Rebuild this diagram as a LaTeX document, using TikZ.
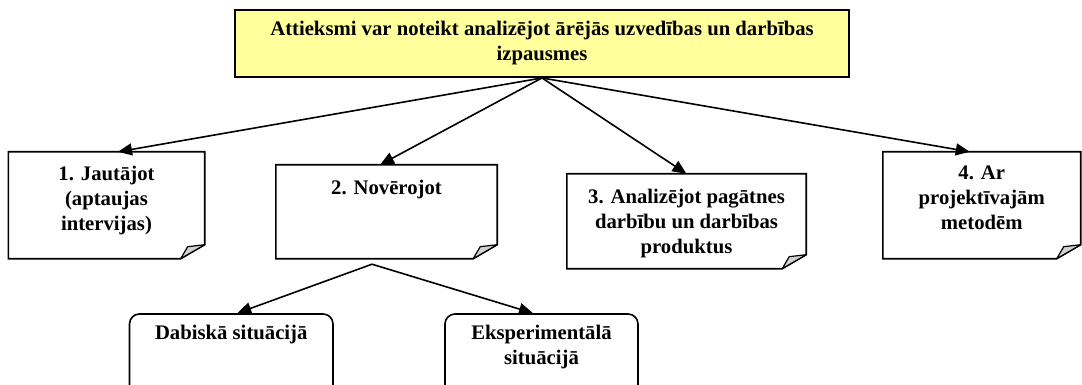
\documentclass[tikz,border=0pt]{standalone}
\usepackage{fontspec}
\setmainfont{Liberation Serif}
\usetikzlibrary{arrows.meta,calc}

\definecolor{paleyellow}{HTML}{FFFF9C}

\tikzset{
  boxline/.style={line width=1.6pt, draw=black, line join=miter},
  notebox/.style={rectangle, inner sep=0pt},
  topbox/.style={rectangle, draw=black, fill=paleyellow, line width=1.9pt, inner sep=0pt,
    minimum width=614pt, minimum height=67pt, align=center,
    font=\fontsize{20.7}{25}\selectfont\bfseries},
  roundbox/.style={rectangle, draw=black, line width=1.6pt, rounded corners=10pt, inner sep=0pt},
  foldcorner/.style={fill=gray!35, draw=black, line width=1.2pt, line join=round},
  notetext/.style={font=\fontsize{20.7}{25}\selectfont\bfseries, align=center, inner sep=0pt, anchor=north},
  connector/.style={line width=1.6pt, -{Triangle[length=14pt,width=12pt]}},
}

% outline of a sheet with its lower right corner turned up
\newcommand\drawnote[1]{%
  \draw[boxline, fill=white] (#1.north west) -- (#1.north east) -- ([yshift=14pt]#1.south east)
    -- ([xshift=-24pt]#1.south east) -- (#1.south west) -- cycle;
  \draw[foldcorner] ([xshift=-24pt]#1.south east)
    .. controls ([xshift=-20pt,yshift=6pt]#1.south east) .. ([xshift=-17pt,yshift=12pt]#1.south east)
    -- ([yshift=14pt]#1.south east) -- cycle;
}

\begin{document}
\begin{tikzpicture}[x=1pt,y=-1pt]
  \useasboundingbox (0,0) rectangle (1082,385);
  \clip (0,0) rectangle (1082,385);

  % heading
  \node[topbox] (top) at (542,43.5) {Attieksmi var noteikt analizējot ārējās uzvedības un darbības\\izpausmes};

  % four methods
  \node[notebox, minimum width=196pt, minimum height=106.5pt] (b1) at (106.5,205.25) {};
  \node[notebox, minimum width=221pt, minimum height=93.5pt] (b2) at (386.5,211.75) {};
  \node[notebox, minimum width=239pt, minimum height=94.5pt] (b3) at (686.5,221.25) {};
  \node[notebox, minimum width=197.5pt, minimum height=106.5pt] (b4) at (981.75,205.25) {};
  \drawnote{b1}
  \drawnote{b2}
  \drawnote{b3}
  \drawnote{b4}
  \node[notetext] (t1) at ([yshift=-14pt]b1.north) {1. Jautājot\\(aptaujas\\intervijas)};
  \node[notetext] (t2) at ([yshift=-15pt]b2.north) {2. Novērojot};
  \node[notetext] (t3) at ([yshift=-15pt]b3.north) {3. Analizējot pagātnes\\darbību un darbības\\produktus};
  \node[notetext] (t4) at ([yshift=-14pt]b4.north) {4. Ar\\projektīvajām\\metodēm};

  % observation settings
  \node[roundbox, minimum width=203.5pt, minimum height=81pt] (d1) at (231.25,354.5) {};
  \node[roundbox, minimum width=193pt, minimum height=81pt] (d2) at (541.5,354.5) {};
  \node[notetext] (t5) at ([yshift=-12pt]d1.north) {Dabiskā situācijā};
  \node[notetext] (t6) at ([yshift=-12pt]d2.north) {Eksperimentālā\\situācijā};

  % connectors
  \draw[connector] (top.south) -- ([xshift=11.5pt]b1.north);
  \draw[connector] (top.south) -- ([xshift=-6.5pt]b2.north);
  \draw[connector] (top.south) -- (b3.north);
  \draw[connector] (top.south) -- ([xshift=-12pt]b4.north);

  \coordinate (split) at ([xshift=-14.5pt,yshift=-5.5pt]b2.south);
  \draw[connector] (split) -- ([xshift=6pt]d1.north);
  \draw[connector] (split) -- ([xshift=-8.5pt]d2.north);
\end{tikzpicture}
\end{document}
